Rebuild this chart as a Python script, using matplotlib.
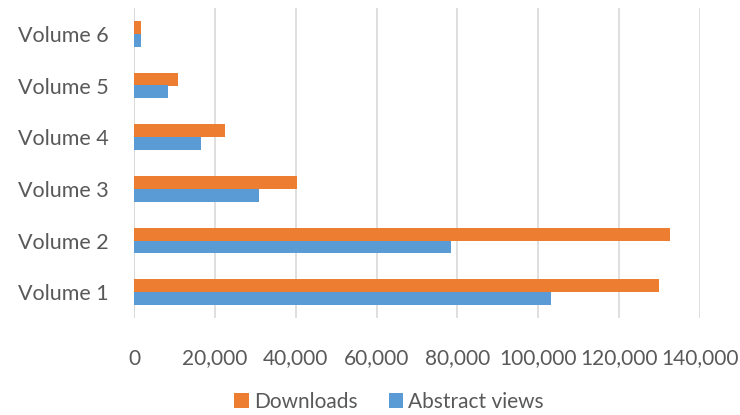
import matplotlib.pyplot as plt
import numpy as np
from matplotlib.ticker import FuncFormatter

volumes = ["Volume 1", "Volume 2", "Volume 3", "Volume 4", "Volume 5", "Volume 6"]
downloads = [129900, 132500, 40300, 22500, 11000, 1650]
abstract_views = [103100, 78500, 30900, 16600, 8400, 1800]

orange = "#ED7D31"
blue = "#5B9BD5"
text_col = "#595959"
grid_col = "#D9D9D9"

plt.rcParams["font.family"] = ["Lato", "DejaVu Sans"]

fig = plt.figure(figsize=(7.4, 4.15), dpi=100)
ax = fig.add_axes([134 / 740, 1 - 318 / 415, 566 / 740, 310 / 415])

y = np.arange(len(volumes))
h = 0.25
ax.barh(y + h / 2, downloads, height=h, color=orange, label="Downloads", zorder=3)
ax.barh(y - h / 2, abstract_views, height=h, color=blue, label="Abstract views", zorder=3)

ax.set_xlim(0, 140000)
ax.set_ylim(-0.5, len(volumes) - 0.5)
ax.set_xticks(np.arange(0, 140001, 20000))
ax.xaxis.set_major_formatter(FuncFormatter(lambda v, p: f"{int(v):,}"))
ax.set_yticks(y)
ax.set_yticklabels(volumes)

ax.grid(axis="x", color=grid_col, linewidth=1.2, zorder=0)
for s in ax.spines.values():
    s.set_visible(False)
ax.axvline(0, color=grid_col, linewidth=1.2, zorder=1)

ax.tick_params(axis="x", length=0, pad=22, labelsize=15, labelcolor=text_col)
ax.tick_params(axis="y", length=0, pad=18, labelsize=15.5, labelcolor=text_col)

handles, labels = ax.get_legend_handles_labels()
fig.legend(handles, labels, loc="center", bbox_to_anchor=(389 / 740, 1 - 402 / 415),
           ncol=2, frameon=False, fontsize=15, handlelength=0.7, handleheight=0.7,
           handletextpad=0.25, columnspacing=1.5, labelcolor=text_col)

fig.savefig("out.png", dpi=100)
